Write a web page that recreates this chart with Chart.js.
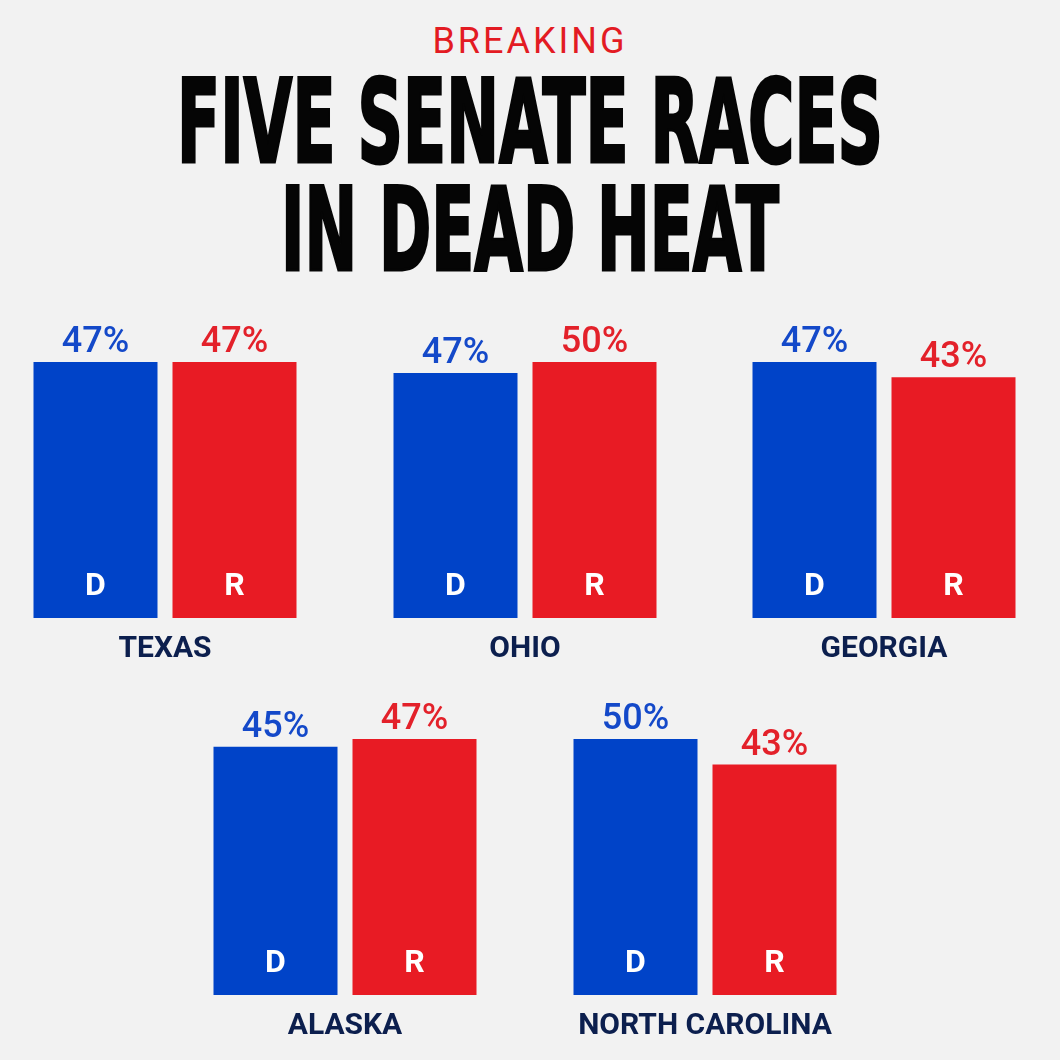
<!DOCTYPE html>
<html>
<head>
<meta charset="utf-8">
<script src="https://cdn.jsdelivr.net/npm/chart.js@4.4.1/dist/chart.umd.min.js"></script>
<style>
  html, body { margin: 0; padding: 0; background: #f2f2f2; }
  #page { position: relative; width: 1060px; height: 1060px; overflow: hidden; background: #f2f2f2; }
  .kicker {
    position: absolute; left: 0; width: 1060px; top: 20px; text-align: center;
    font: 400 36px Roboto, "Noto Sans", sans-serif; letter-spacing: 3px; color: #e31b23; line-height: 42px;
  }
  .headline {
    position: absolute; left: 0; width: 1060px; height: 116px; white-space: nowrap;
    font-family: "Liberation Sans Narrow", "DejaVu Sans Condensed", "Liberation Sans", sans-serif;
    font-weight: 700; font-size: 116px; line-height: 116px; color: #050505;
    -webkit-text-stroke: 3px #050505;
  }
  .headline span { position: absolute; left: 530px; top: 0; transform-origin: 0 50%; }
  canvas { position: absolute; }
</style>
</head>
<body>
<div id="page">
  <div class="kicker">BREAKING</div>
  <div class="headline" style="top:64px"><span data-w="706">FIVE SENATE RACES</span></div>
  <div class="headline" style="top:172px"><span data-w="498">IN DEAD HEAT</span></div>
  <canvas id="c0" width="278" height="360" style="left:26px;top:310px"></canvas>
  <canvas id="c1" width="278" height="360" style="left:386px;top:310px"></canvas>
  <canvas id="c2" width="278" height="360" style="left:745px;top:310px"></canvas>
  <canvas id="c3" width="278" height="360" style="left:206px;top:687px"></canvas>
  <canvas id="c4" width="278" height="360" style="left:566px;top:687px"></canvas>
</div>
<script>
const states = ["TEXAS", "OHIO", "GEORGIA", "ALASKA", "NORTH CAROLINA"];
const parties = ["D", "R"];
const demValues = [47, 47, 47, 45, 50];
const repValues = [47, 50, 43, 47, 43];
const axisFloor = -20;

const colors = {
  blueBar: "#0043c8",
  redBar: "#e81b24",
  blueText: "#1449c9",
  redText: "#e3212a",
  navy: "#0c1f4e",
};

// squeeze the headline lines to the width of the original, centred on the page
document.querySelectorAll(".headline span").forEach((el) => {
  const target = +el.dataset.w;
  const w = el.getBoundingClientRect().width;
  el.style.transform = `translateX(${-target / 2}px) scaleX(${target / w})`;
});

const labelPlugin = {
  id: "raceLabels",
  afterDatasetsDraw(chart) {
    const { ctx, chartArea } = chart;
    const meta = chart.getDatasetMeta(0);
    const values = chart.data.datasets[0].data;
    ctx.save();
    ctx.textAlign = "center";
    ctx.textBaseline = "alphabetic";
    meta.data.forEach((bar, i) => {
      ctx.fillStyle = i === 0 ? colors.blueText : colors.redText;
      ctx.font = "500 36px Roboto, sans-serif";
      ctx.fillText(values[i] + "%", bar.x, bar.y - 10);
      ctx.fillStyle = "#ffffff";
      ctx.font = "700 32px Roboto, sans-serif";
      ctx.fillText(chart.data.labels[i], bar.x, chartArea.bottom - 23);
    });
    ctx.fillStyle = colors.navy;
    ctx.font = "700 30px Roboto, sans-serif";
    ctx.fillText(chart.options.plugins.stateName, (chartArea.left + chartArea.right) / 2, chartArea.bottom + 39);
    ctx.restore();
  },
};

states.forEach((name, i) => {
  const d = demValues[i];
  const r = repValues[i];
  new Chart(document.getElementById("c" + i), {
    type: "bar",
    data: {
      labels: parties,
      datasets: [
        {
          data: [d, r],
          base: axisFloor,
          backgroundColor: [colors.blueBar, colors.redBar],
          borderWidth: 0,
          categoryPercentage: 1,
          barPercentage: 124 / 139,
        },
      ],
    },
    options: {
      responsive: false,
      devicePixelRatio: 1,
      animation: false,
      layout: { padding: { top: 52, bottom: 52, left: 0, right: 0 } },
      scales: {
        x: { display: false },
        y: { display: false, min: axisFloor, max: Math.max(d, r) },
      },
      plugins: {
        legend: { display: false },
        tooltip: { enabled: false },
        stateName: name,
      },
    },
    plugins: [labelPlugin],
  });
});
</script>
</body>
</html>
